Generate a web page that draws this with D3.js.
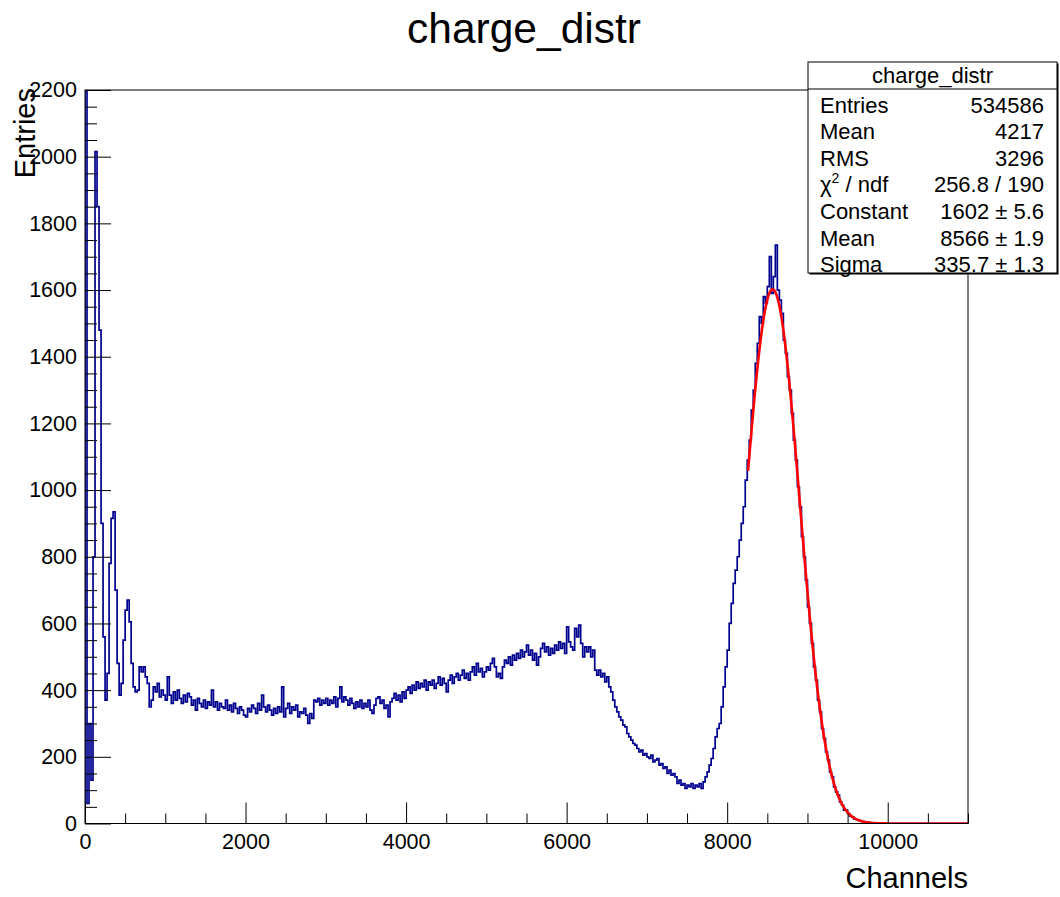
<!DOCTYPE html>
<html><head><meta charset="utf-8">
<script src="https://cdn.jsdelivr.net/npm/d3@7"></script>
<style>
body{margin:0;background:#fff}
svg{display:block}
text{font-family:"Liberation Sans",Arial,Helvetica,sans-serif;fill:#000}
</style>
</head><body>
<svg id="chart" width="1060" height="897"></svg>
<script>
// ---------------- data ----------------
const histTitle = "charge_distr";
const xTitle = "Channels";
const yTitle = "Entries";
const binStart = 0;
const binWidth = 25;
const counts_0_2000 = [
  9000, 60, 300, 130, 800, 2015, 1850, 1480, 900, 560, 370, 450, 780, 915, 935, 700, 480, 385, 420, 550,
  640, 670, 605, 480, 410, 395, 400, 470, 455, 470, 440, 420, 350, 370, 410, 395, 420, 380, 400, 385,
  370, 440, 385, 360, 395, 370, 400, 375, 360, 385, 365, 390, 380, 355, 370, 340, 375, 360, 350, 370,
  345, 365, 355, 400, 350, 365, 340, 360, 350, 345, 370, 340, 355, 335, 360, 345, 330, 350, 340, 325
];
const counts_2000_4000 = [
  320, 345, 335, 355, 345, 330, 360, 340, 385, 350, 335, 355, 340, 325, 345, 330, 350, 335, 410, 320,
  345, 360, 330, 350, 340, 355, 320, 335, 330, 345, 325, 300, 330, 315, 370, 365, 375, 355, 370, 360,
  375, 355, 370, 360, 380, 350, 375, 410, 365, 380, 370, 355, 375, 360, 345, 365, 350, 370, 345, 360,
  350, 370, 340, 330, 355, 375, 380, 360, 370, 345, 355, 320, 365, 375, 390, 370, 385, 365, 395, 375
];
const counts_4000_6000 = [
  400, 410, 390, 415, 400, 425, 405, 420, 410, 430, 400, 425, 415, 430, 405, 420, 440, 415, 435, 420,
  395, 430, 445, 420, 440, 450, 430, 445, 460, 435, 450, 430, 455, 470, 445, 480, 455, 465, 440, 455,
  470, 460, 480, 495, 470, 440, 450, 435, 470, 490, 480, 500, 475, 505, 490, 510, 495, 520, 500, 515,
  535, 505, 520, 490, 510, 475, 500, 525, 540, 515, 530, 505, 525, 510, 535, 520, 545, 525, 540, 510
];
const counts_6000_8000 = [
  590, 545, 530, 520, 585, 560, 595, 540, 500, 530, 515, 530, 500, 520, 460, 445, 460, 440, 450, 425,
  440, 410, 395, 370, 350, 335, 320, 310, 295, 290, 270, 260, 250, 240, 235, 225, 215, 220, 205, 210,
  200, 195, 205, 185, 190, 195, 175, 180, 165, 170, 150, 160, 145, 150, 140, 120, 130, 115, 120, 105,
  115, 110, 120, 105, 115, 110, 120, 105, 125, 140, 155, 175, 195, 225, 260, 285, 300, 350, 410, 470
];
const counts_8000_10000 = [
  520, 600, 660, 720, 760, 800, 850, 900, 950, 1030, 1090, 1150, 1240, 1300, 1380, 1440, 1520, 1500, 1580, 1560,
  1610, 1700, 1590, 1640, 1735, 1600, 1570, 1530, 1450, 1410, 1340, 1300, 1230, 1150, 1090, 1010, 950, 860, 800, 730,
  650, 600, 540, 470, 430, 370, 335, 285, 255, 215, 190, 155, 140, 110, 95, 85, 65, 55, 40, 40,
  30, 22, 20, 14, 12, 10, 7, 6, 4, 4, 3, 2, 2, 1, 1, 1, 0, 0, 0, 0
];
const counts_10000_11000 = [
  0,0,0,0,0,0,0,0,0,0,0,0,0,0,0,0,0,0,0,0,
  0,0,0,0,0,0,0,0,0,0,0,0,0,0,0,0,0,0,0,0
];
const xDomain = [0, 11000];
const yDomain = [0, 2200];
const xMajorTicks = [0, 2000, 4000, 6000, 8000, 10000];
const xMinorStep = 500;
const yMajorTicks = [0, 200, 400, 600, 800, 1000, 1200, 1400, 1600, 1800, 2000, 2200];
const yMinorStep = 50;
const fitConstant = 1602, fitMean = 8566, fitSigma = 335.7;
const fitRange = [8260, 11000];
const statsTitle = "charge_distr";
const statsLabels = ["Entries", "Mean", "RMS", "CHI", "Constant", "Mean", "Sigma"];
const statsValues = ["534586", "4217", "3296", "256.8 / 190", "1602 \u00b1 5.6", "8566 \u00b1 1.9", "335.7 \u00b1 1.3"];

// ---------------- drawing ----------------
const counts = [].concat(counts_0_2000, counts_2000_4000, counts_4000_6000,
                         counts_6000_8000, counts_8000_10000, counts_10000_11000);
const svg = d3.select("#chart");
const L = 85, R = 968, T = 90, B = 823.5;
const x = d3.scaleLinear().domain(xDomain).range([L, R]);
const y = d3.scaleLinear().domain(yDomain).range([B, T]);

svg.append("defs").append("clipPath").attr("id", "frameClip")
  .append("rect").attr("x", L).attr("y", T).attr("width", R - L).attr("height", B - T);

// histogram step line
const pts = [[x(binStart), y(0)]];
counts.forEach((c, i) => {
  const x0 = binStart + i * binWidth, x1 = x0 + binWidth;
  pts.push([x(x0), y(c)]);
  pts.push([x(x1), y(c)]);
});
svg.append("path")
  .attr("clip-path", "url(#frameClip)")
  .attr("d", d3.line()(pts))
  .attr("fill", "none")
  .attr("stroke", "#00008f")
  .attr("stroke-width", 1.7)
  .attr("stroke-linejoin", "miter");

// gaussian fit curve
const fitPts = d3.range(fitRange[0], fitRange[1] + 1, 5).map(v =>
  [x(v), y(fitConstant * Math.exp(-0.5 * Math.pow((v - fitMean) / fitSigma, 2)))]);
svg.append("path")
  .attr("clip-path", "url(#frameClip)")
  .attr("d", d3.line()(fitPts))
  .attr("fill", "none")
  .attr("stroke", "#ff0000")
  .attr("stroke-width", 2.6);

// axes
const xMinor = d3.range(xDomain[0], xDomain[1] + 1, xMinorStep).filter(v => !xMajorTicks.includes(v));
const yMinor = d3.range(yDomain[0], yDomain[1] + 1, yMinorStep).filter(v => !yMajorTicks.includes(v));

svg.append("g").attr("transform", `translate(0,${B})`)
  .call(d3.axisBottom(x).tickValues(xMajorTicks).tickSize(-21).tickPadding(10).tickFormat(d3.format("d")));
svg.append("g").attr("transform", `translate(0,${B})`)
  .call(d3.axisBottom(x).tickValues(xMinor).tickSize(-10).tickFormat(() => ""));
svg.append("g").attr("transform", `translate(${L},0)`)
  .call(d3.axisLeft(y).tickValues(yMajorTicks).tickSize(-26).tickPadding(8).tickFormat(d3.format("d")));
svg.append("g").attr("transform", `translate(${L},0)`)
  .call(d3.axisLeft(y).tickValues(yMinor).tickSize(-12).tickFormat(() => ""));
svg.selectAll(".domain").remove();
svg.selectAll(".tick line").attr("stroke", "#000").attr("stroke-width", 1);
svg.selectAll(".tick text").attr("font-size", 21.5).attr("fill", "#000")
  .attr("font-family", "'Liberation Sans',Arial,sans-serif");

// frame
svg.append("rect").attr("x", L).attr("y", T).attr("width", R - L).attr("height", B - T)
  .attr("fill", "none").attr("stroke", "#000").attr("stroke-width", 1);

// titles
svg.append("text").attr("x", 524).attr("y", 43).attr("text-anchor", "middle")
  .attr("font-size", 42.5).text(histTitle);
svg.append("text").attr("x", R).attr("y", 888).attr("text-anchor", "end")
  .attr("font-size", 29).text(xTitle);
svg.append("text").attr("transform", `translate(35,${T - 2}) rotate(-90)`)
  .attr("text-anchor", "end").attr("font-size", 29).text(yTitle);

// stats box
const bx = 808, by = 62, bw = 249, bh = 211;
svg.append("rect").attr("x", bx + 1.5).attr("y", by + 1.5).attr("width", bw).attr("height", bh).attr("fill", "#000");
svg.append("rect").attr("x", bx).attr("y", by).attr("width", bw).attr("height", bh)
  .attr("fill", "#fff").attr("stroke", "#000").attr("stroke-width", 1);
svg.append("line").attr("x1", bx).attr("x2", bx + bw).attr("y1", 89).attr("y2", 89)
  .attr("stroke", "#000").attr("stroke-width", 1);
svg.append("text").attr("x", bx + bw / 2).attr("y", 83).attr("text-anchor", "middle")
  .attr("font-size", 22).text(statsTitle);
statsLabels.forEach((lab, i) => {
  const yy = 112.5 + i * 26.6;
  const t = svg.append("text").attr("x", 820).attr("y", yy).attr("font-size", 22);
  if (lab === "CHI") {
    t.append("tspan").text("\u03c7");
    t.append("tspan").attr("dy", -9).attr("font-size", 14).text("2");
    t.append("tspan").attr("dy", 9).text(" / ndf");
  } else {
    t.text(lab);
  }
  svg.append("text").attr("x", 1044).attr("y", yy).attr("text-anchor", "end")
    .attr("font-size", 22).text(statsValues[i]);
});
</script>
</body></html>
